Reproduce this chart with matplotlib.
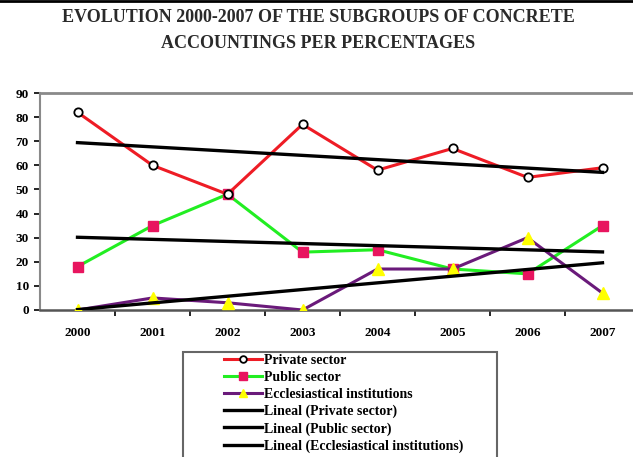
import matplotlib
matplotlib.use("Agg")
import matplotlib.pyplot as plt
import numpy as np
from matplotlib.lines import Line2D
from matplotlib.patches import Rectangle

# Datos
years = ["2000", "2001", "2002", "2003", "2004", "2005", "2006", "2007"]
private_sector = [82, 60, 48, 77, 58, 67, 55, 59]
public_sector = [18, 35, 48, 24, 25, 17, 15, 35]
ecclesiastical = [0, 5, 3, 0, 17, 17, 30, 7]
y_ticks = [0, 10, 20, 30, 40, 50, 60, 70, 80, 90]

plt.rcParams['font.family'] = ['Liberation Serif', 'DejaVu Serif']
plt.rcParams['font.weight'] = 'bold'

W, H = 633, 457
fig = plt.figure(figsize=(W / 100, H / 100), dpi=100)
ax = fig.add_axes([40 / W, 1 - 310 / H, 600 / W, 217 / H])

x = np.arange(len(years))

ax.plot(x, private_sector, color='#ee1c25', lw=2.2, marker='o', ms=6,
        mfc='white', mec='black', mew=1.3, label='Private sector', zorder=4)
ax.plot(x, public_sector, color='#22ee22', lw=2.2, marker='s', ms=7,
        mfc='#e8155f', mec='#e8155f', label='Public sector', zorder=3)
ax.plot(x, ecclesiastical, color='#6a1a7a', lw=2.2, marker='^', ms=8,
        mfc='#ffff00', mec='#ffff00', label='Ecclesiastical institutions', zorder=3)

# lineas de tendencia (regresion lineal)
nombres = ['Lineal (Private sector)', 'Lineal (Public sector)',
           'Lineal (Ecclesiastical institutions)']
for serie, nombre in zip([private_sector, public_sector, ecclesiastical], nombres):
    m, b = np.polyfit(x, serie, 1)
    ax.plot(x, m * x + b, color='black', lw=2.4, label=nombre, zorder=5)

ax.set_xlim(-0.5, 7.5)
ax.set_ylim(0, 90)
ax.set_yticks(y_ticks)
ax.set_xticks(x)
ax.set_xticklabels(years)
ax.set_xticks(x[:-1] + 0.5, minor=True)
ax.tick_params(axis='x', which='major', length=0, pad=12, labelsize=9.5)
ax.tick_params(axis='x', which='minor', length=4, width=1.2, direction='out')
ax.tick_params(axis='y', length=4, width=1.2, direction='out', pad=4, labelsize=9.5)

for s in ['top', 'left', 'bottom']:
    ax.spines[s].set_color('#8a8a8a')
ax.spines['top'].set_linewidth(2)
ax.spines['left'].set_linewidth(1.5)
ax.spines['bottom'].set_linewidth(1.8)
ax.spines['bottom'].set_color('#555555')
ax.spines['right'].set_visible(False)

fig.text(318 / W, 1 - 18 / H, 'EVOLUTION 2000-2007 OF THE SUBGROUPS OF CONCRETE',
         ha='center', va='center', fontsize=13, fontweight='bold', color='#2a2a2a')
fig.text(318 / W, 1 - 44 / H, 'ACCOUNTINGS PER PERCENTAGES',
         ha='center', va='center', fontsize=13, fontweight='bold', color='#2a2a2a')

# linea negra arriba
fig.add_artist(Line2D([0, 1], [1 - 1 / H, 1 - 1 / H], color='black', lw=2,
                      transform=fig.transFigure))

# caja de la leyenda
fig.add_artist(Rectangle((183 / W, -0.05), (497 - 183) / W, (0.05 + 1 - 352 / H),
                         transform=fig.transFigure, fill=False,
                         edgecolor='#666666', lw=1.5))
handles, labels = ax.get_legend_handles_labels()
fig.legend(handles, labels, loc='upper left', bbox_to_anchor=(224 / W, 1 - 354 / H),
           frameon=False, borderpad=0, borderaxespad=0, handlelength=2.7,
           handletextpad=0.2, labelspacing=0.28, markerscale=0.8,
           prop={'weight': 'bold', 'size': 10})

fig.savefig('out.png', dpi=100)
